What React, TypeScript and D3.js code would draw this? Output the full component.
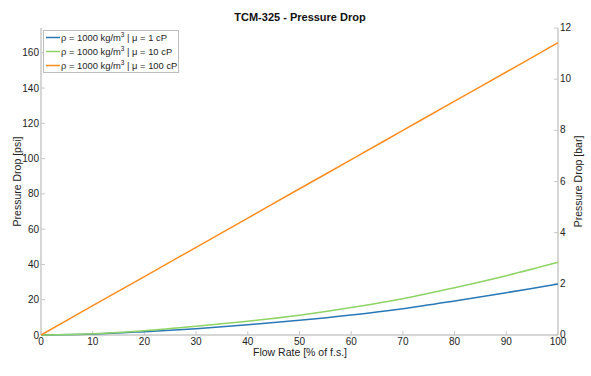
import React from "react";
import * as d3 from "d3";

const flowRate = [0, 10, 20, 30, 40, 50, 60, 70, 80, 90, 100];
const mu1 = [0, 0.5, 1.9, 3.6, 5.8, 8.3, 11.3, 14.9, 19.3, 24.0, 28.9];
const mu10 = [0, 0.7, 2.4, 4.9, 7.8, 11.2, 15.6, 20.6, 26.8, 33.6, 41.2];
const mu100 = [0, 16.6, 33.1, 49.7, 66.3, 82.9, 99.4, 116.0, 132.6, 149.1, 165.7];
const seriesNames = ["1 cP", "10 cP", "100 cP"];
const seriesColors = ["#2878b8", "#8ed363", "#ff8c1e"];
const xTicks = [0, 10, 20, 30, 40, 50, 60, 70, 80, 90, 100];
const psiTicks = [0, 20, 40, 60, 80, 100, 120, 140, 160];
const barTicks = [0, 2, 4, 6, 8, 10, 12];
const PSI_PER_BAR = 14.5038;

export default function App() {
  const W = 591, H = 376;
  const L = 41, R = 558, T = 28, B = 335;
  const x = d3.scaleLinear().domain([0, 100]).range([L, R]);
  const yBar = d3.scaleLinear().domain([0, 12]).range([B, T]);
  const yPsi = d3.scaleLinear().domain([0, 12 * PSI_PER_BAR]).range([B, T]);
  const series = [mu1, mu10, mu100];
  const line = d3
    .line<number>()
    .x((_, i) => x(flowRate[i]))
    .y((d) => yPsi(d))
    .curve(d3.curveCatmullRom);
  const font = "'Liberation Sans', Arial, sans-serif";
  const axisColor = "#c8c8c8";
  const txt = "#222";
  return (
    <svg width={W} height={H} style={{ position: "absolute", left: 0, top: 0 }} fontFamily={font}>
      <rect width={W} height={H} fill="#fff" />
      <text x={300} y={21} textAnchor="middle" fontSize={11} fontWeight="bold" fill="#111">
        TCM-325 - Pressure Drop
      </text>
      <line x1={L} y1={T} x2={L} y2={B} stroke={axisColor} strokeWidth={1.5} />
      <line x1={R} y1={T} x2={R} y2={B} stroke={axisColor} strokeWidth={1.5} />
      <line x1={L} y1={B} x2={R} y2={B} stroke={axisColor} strokeWidth={1.5} />
      {xTicks.map((t) => (
        <g key={"x" + t}>
          <line x1={x(t)} x2={x(t)} y1={B} y2={B - 4} stroke={axisColor} />
          <text x={x(t)} y={B + 10} textAnchor="middle" fontSize={10} fill={txt}>
            {t}
          </text>
        </g>
      ))}
      {psiTicks.map((t) => (
        <g key={"p" + t}>
          <line x1={L} x2={L + 4} y1={yPsi(t)} y2={yPsi(t)} stroke={axisColor} />
          <text x={L - 2} y={yPsi(t) + 3.5} textAnchor="end" fontSize={10} fill={txt}>
            {t}
          </text>
        </g>
      ))}
      {barTicks.map((t) => (
        <g key={"b" + t}>
          <line x1={R} x2={R - 4} y1={yBar(t)} y2={yBar(t)} stroke={axisColor} />
          <text x={R + 2} y={yBar(t) + 3} textAnchor="start" fontSize={10} fill={txt}>
            {t}
          </text>
        </g>
      ))}
      <text x={300} y={356} textAnchor="middle" fontSize={10.5} fill={txt}>
        Flow Rate [% of f.s.]
      </text>
      <text transform={`translate(21,${(T + B) / 2}) rotate(-90)`} textAnchor="middle" fontSize={10.5} fill={txt}>
        Pressure Drop [psi]
      </text>
      <text transform={`translate(582,${(T + B) / 2}) rotate(-90)`} textAnchor="middle" fontSize={10.5} fill={txt}>
        Pressure Drop [bar]
      </text>
      {series.map((s, i) => (
        <path key={i} d={line(s) || ""} fill="none" stroke={seriesColors[i]} strokeWidth={1.5} />
      ))}
      <rect x={43.5} y={30.5} width={135} height={42} fill="#fff" stroke="#bdbdbd" />
      {seriesNames.map((n, i) => {
        const yy = 37.5 + i * 14;
        return (
          <g key={n}>
            <line x1={46} x2={60} y1={yy} y2={yy} stroke={seriesColors[i]} strokeWidth={1.5} />
            <text x={61} y={yy + 3.5} fontSize={9.4} fill={txt}>
              ρ = 1000 kg/m
              <tspan dy={-4} fontSize={6.5}>3</tspan>
              <tspan dy={4}> | μ = {n}</tspan>
            </text>
          </g>
        );
      })}
    </svg>
  );
}
